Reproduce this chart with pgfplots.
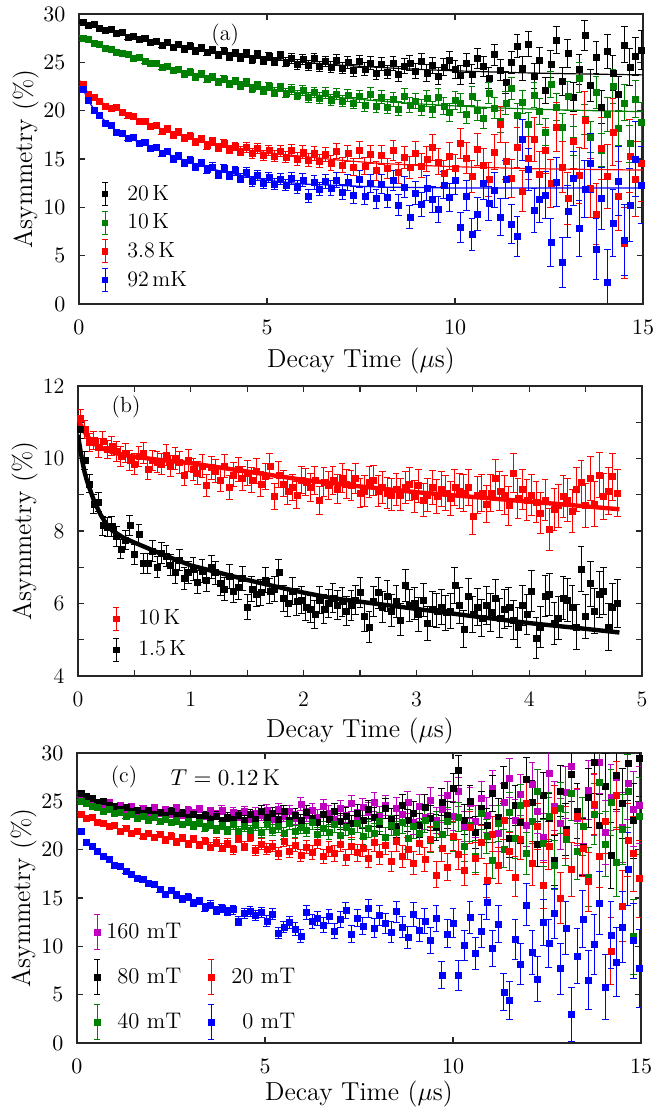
\RequirePackage{fix-cm}
\documentclass[border=0pt]{standalone}
\usepackage{pgfplots}
\pgfplotsset{compat=1.18}
\usepackage{pgfplotstable}
\definecolor{mgreen}{rgb}{0,0.5,0}
\definecolor{mmag}{rgb}{0.75,0,0.75}
\definecolor{axgray}{rgb}{0.15,0.15,0.15}

\pgfplotstableread{
t ea eb K G R B
0.10 0.20 0.20 29.2 27.5 22.7 22.2
0.25 0.21 0.21 28.8 27.4 21.7 21.1
0.40 0.21 0.22 28.9 27.0 21.4 20.0
0.55 0.22 0.22 28.5 26.9 21.0 19.5
0.70 0.22 0.23 28.3 26.5 20.5 18.7
0.85 0.23 0.24 28.4 26.4 20.3 18.5
1.00 0.23 0.24 28.0 26.0 20.4 17.8
1.15 0.24 0.25 28.1 25.9 19.8 17.7
1.30 0.24 0.26 27.6 25.8 19.5 17.2
1.45 0.25 0.27 27.7 25.4 19.4 17.3
1.60 0.26 0.28 27.4 25.5 18.9 16.6
1.75 0.26 0.28 27.5 25.1 18.9 16.7
1.90 0.27 0.29 27.1 24.9 18.4 16.1
2.05 0.27 0.30 27.2 24.9 18.5 16.2
2.20 0.28 0.31 26.8 24.5 17.9 15.6
2.35 0.29 0.32 27.1 24.6 18.1 15.8
2.50 0.29 0.33 26.6 24.2 17.5 15.0
2.65 0.30 0.34 26.9 24.3 17.8 15.3
2.80 0.31 0.35 26.4 23.8 17.2 14.6
2.95 0.32 0.36 26.7 24.0 17.4 14.9
3.10 0.32 0.37 26.2 23.5 16.8 14.2
3.25 0.33 0.38 26.5 23.8 17.1 14.6
3.40 0.34 0.39 26.0 23.3 16.4 13.9
3.55 0.34 0.41 26.3 23.5 16.8 14.2
3.70 0.35 0.42 25.8 23.0 16.2 13.4
3.85 0.36 0.43 26.2 23.3 16.6 14.0
4.00 0.37 0.45 25.6 22.8 16.0 13.3
4.15 0.38 0.46 26.0 23.1 16.3 13.8
4.30 0.39 0.47 25.5 22.6 15.8 13.0
4.45 0.40 0.49 25.9 22.9 16.2 13.6
4.60 0.41 0.50 25.3 22.3 15.6 12.7
4.75 0.42 0.52 25.8 22.6 16.1 13.3
4.90 0.42 0.53 25.2 22.1 15.4 12.5
5.05 0.43 0.55 25.6 22.5 15.9 13.1
5.20 0.45 0.57 25.1 21.9 15.3 12.4
5.35 0.46 0.58 25.7 22.4 15.8 12.9
5.50 0.47 0.60 25.0 21.8 15.2 12.3
5.65 0.48 0.62 25.4 22.2 15.9 13.0
5.80 0.49 0.64 24.8 21.6 15.0 12.1
5.95 0.50 0.66 25.3 22.1 15.7 12.8
6.10 0.51 0.68 24.7 21.4 14.9 11.2
6.25 0.52 0.70 25.4 21.9 15.6 12.6
6.40 0.54 0.72 24.6 21.3 14.8 11.9
6.55 0.55 0.74 25.1 21.8 15.5 12.7
6.70 0.56 0.76 24.5 21.1 14.6 12.0
6.85 0.57 0.79 25.2 21.7 15.8 12.8
7.00 0.59 0.81 24.4 21.0 14.4 11.6
7.15 0.60 0.83 25.0 21.6 15.6 12.6
7.30 0.61 0.86 24.2 20.8 14.2 11.3
7.45 0.63 0.88 25.1 21.5 15.9 12.9
7.60 0.64 0.91 24.3 20.6 14.3 11.2
7.75 0.66 0.94 24.9 21.7 15.5 12.5
7.90 0.67 0.97 23.9 20.5 13.8 10.9
8.05 0.69 1.00 24.8 21.4 15.4 12.4
8.20 0.71 1.03 24.0 20.4 14.0 11.0
8.35 0.72 1.06 24.9 21.2 15.9 12.8
8.50 0.74 1.09 23.8 20.2 13.6 10.2
8.65 0.76 1.13 24.6 21.5 15.2 12.1
8.80 0.78 1.16 24.9 20.6 14.1 9.0
8.95 0.79 1.20 24.1 21.0 15.6 11.5
9.10 0.81 1.23 25.1 20.3 14.3 10.3
9.25 0.83 1.27 23.9 21.3 15.0 12.0
9.40 0.85 1.31 24.7 20.1 16.2 10.8
9.55 0.87 1.35 23.6 21.4 14.7 9.8
9.70 0.89 1.39 24.5 20.5 13.5 12.3
9.85 0.91 1.43 25.2 19.8 15.3 11.0
10.00 0.93 1.48 24.3 21.1 14.0 12.8
10.15 0.95 1.52 23.7 20.8 16.6 7.9
10.30 0.97 1.57 24.9 19.6 15.1 11.2
10.45 1.00 1.62 23.8 21.5 13.2 7.2
10.60 1.02 1.67 25.4 20.0 16.0 9.3
10.75 1.05 1.72 24.6 19.2 14.4 12.5
10.90 1.07 1.77 23.4 21.8 12.9 10.4
11.05 1.10 1.83 25.8 20.3 15.7 11.8
11.20 1.12 1.88 24.2 18.9 18.6 9.0
11.35 1.15 1.94 22.9 20.8 14.8 12.9
11.50 1.17 2.00 25.0 22.3 13.0 8.3
11.65 1.20 2.06 26.7 19.5 16.2 7.0
11.80 1.23 2.13 24.4 20.9 11.7 17.0
11.95 1.26 2.19 26.9 18.6 15.1 13.9
12.10 1.29 2.26 23.6 21.6 17.0 9.7
12.25 1.32 2.33 25.2 19.9 13.4 10.8
12.40 1.35 2.40 22.1 17.8 15.9 11.3
12.55 1.38 2.47 24.8 22.7 12.5 6.4
12.70 1.41 2.55 27.3 20.4 18.3 12.6
12.85 1.45 2.63 23.0 18.3 14.2 4.3
13.00 1.48 2.71 25.9 21.5 10.9 9.6
13.15 1.51 2.79 21.4 16.9 16.8 13.0
13.30 1.55 2.88 24.3 23.4 13.3 7.8
13.45 1.58 2.96 27.8 19.1 19.0 11.9
13.60 1.62 3.05 22.6 17.3 12.0 14.6
13.75 1.66 3.15 25.5 21.9 9.3 5.7
13.90 1.70 3.24 20.4 15.9 16.1 10.9
14.05 1.74 3.34 26.1 19.6 13.2 2.3
14.20 1.78 3.44 23.9 22.5 17.8 8.4
14.35 1.82 3.55 21.7 18.2 11.2 12.7
14.50 1.86 3.65 26.8 20.8 6.3 6.6
14.65 1.91 3.77 24.5 16.6 15.3 10.2
14.80 1.95 3.88 25.6 21.2 12.9 15.0
14.95 2.00 4.00 26.3 18.8 14.6 12.3
}\dataA

\pgfplotstableread{
t e R K
0.02 0.25 11.10 10.80
0.06 0.25 10.80 9.95
0.10 0.25 10.45 9.30
0.14 0.26 10.50 8.75
0.18 0.26 10.30 8.80
0.22 0.26 10.48 8.15
0.26 0.26 10.25 8.10
0.30 0.27 10.35 8.12
0.34 0.27 10.20 7.85
0.38 0.27 10.05 7.50
0.42 0.27 10.15 7.75
0.46 0.27 9.95 8.15
0.50 0.28 9.85 7.35
0.54 0.28 10.05 7.90
0.58 0.28 10.15 7.10
0.62 0.28 9.70 7.10
0.66 0.28 9.95 7.45
0.70 0.29 9.90 7.00
0.74 0.29 9.85 7.40
0.78 0.29 10.10 7.30
0.82 0.29 9.80 7.05
0.86 0.30 10.00 6.85
0.90 0.30 9.90 7.20
0.94 0.30 9.55 6.70
0.98 0.30 9.95 6.85
1.02 0.31 9.70 6.95
1.06 0.31 9.60 6.60
1.10 0.31 9.80 6.90
1.14 0.31 9.25 6.65
1.18 0.32 9.75 7.00
1.22 0.32 9.65 6.85
1.26 0.32 9.40 6.55
1.30 0.32 9.80 6.40
1.34 0.33 9.20 6.75
1.38 0.33 9.55 6.35
1.42 0.33 9.70 6.45
1.46 0.33 9.45 6.70
1.50 0.34 9.60 5.90
1.54 0.34 9.40 6.40
1.58 0.34 9.65 6.25
1.62 0.35 9.30 6.30
1.66 0.35 9.50 6.65
1.70 0.35 9.80 6.35
1.74 0.35 8.95 6.40
1.78 0.36 9.55 6.85
1.82 0.36 9.30 6.15
1.86 0.36 9.10 6.00
1.90 0.37 9.20 6.35
1.94 0.37 9.00 6.05
1.98 0.37 9.40 6.10
2.02 0.37 9.35 5.90
2.06 0.38 9.20 5.85
2.10 0.38 9.40 5.70
2.14 0.38 8.85 6.10
2.18 0.39 9.35 5.85
2.22 0.39 9.25 6.00
2.26 0.39 9.40 6.15
2.30 0.40 9.15 5.95
2.34 0.40 9.45 6.05
2.38 0.40 9.30 5.80
2.42 0.41 9.25 5.95
2.46 0.41 9.45 6.10
2.50 0.41 9.05 6.30
2.54 0.42 9.10 5.65
2.58 0.42 9.35 5.35
2.62 0.42 9.40 6.05
2.66 0.43 9.10 6.30
2.70 0.43 9.20 5.90
2.74 0.43 9.05 6.20
2.78 0.44 9.00 5.80
2.82 0.44 9.15 6.05
2.86 0.44 9.00 5.55
2.90 0.45 9.20 6.50
2.94 0.45 9.30 5.95
2.98 0.45 8.95 6.00
3.02 0.46 9.25 5.70
3.06 0.46 8.85 6.10
3.10 0.46 9.00 5.45
3.14 0.47 9.20 5.85
3.18 0.47 8.95 5.80
3.22 0.48 9.15 5.90
3.26 0.48 9.05 5.75
3.30 0.48 8.90 5.80
3.34 0.49 9.20 6.50
3.38 0.49 9.10 5.95
3.42 0.50 9.05 5.30
3.46 0.50 9.20 6.20
3.50 0.50 8.40 5.70
3.54 0.51 9.00 5.90
3.58 0.51 9.05 5.60
3.62 0.52 8.75 5.95
3.66 0.52 9.05 5.75
3.70 0.52 9.45 6.15
3.74 0.53 9.10 5.60
3.78 0.53 9.00 5.85
3.82 0.54 8.70 5.90
3.86 0.54 9.60 5.55
3.90 0.55 8.90 5.35
3.94 0.55 9.15 5.95
3.98 0.56 8.85 5.70
4.02 0.56 9.00 6.35
4.06 0.56 8.80 5.05
4.10 0.57 8.50 5.35
4.14 0.57 8.85 6.20
4.18 0.58 8.05 6.25
4.22 0.58 8.60 5.45
4.26 0.59 8.70 5.60
4.30 0.59 8.95 6.15
4.34 0.60 8.85 6.10
4.38 0.60 8.55 5.90
4.42 0.61 9.15 5.35
4.46 0.61 9.35 6.95
4.50 0.61 8.70 5.65
4.54 0.62 9.45 6.55
4.58 0.62 8.75 5.80
4.62 0.63 9.55 6.25
4.66 0.64 8.95 6.35
4.70 0.64 9.10 5.35
4.74 0.65 9.50 5.90
4.78 0.65 9.05 6.00
}\dataB

\pgfplotstableread{
t e M K G R B
0.10 0.20 25.3 25.8 25.0 23.7 21.9
0.25 0.21 25.0 25.5 24.8 23.3 20.8
0.40 0.22 25.2 25.3 24.5 23.4 20.4
0.55 0.22 24.8 24.9 24.4 22.8 19.8
0.70 0.23 24.6 25.0 24.0 22.7 19.3
0.85 0.24 24.9 24.6 24.2 22.4 19.0
1.00 0.24 24.3 24.5 23.8 22.5 18.4
1.15 0.25 24.6 24.2 23.9 21.9 18.3
1.30 0.26 24.2 24.4 23.5 22.2 17.8
1.45 0.27 24.5 24.0 23.7 21.7 17.5
1.60 0.28 24.0 24.1 23.3 21.9 17.0
1.75 0.28 24.3 23.8 23.5 21.4 16.9
1.90 0.29 23.9 24.1 23.1 21.7 16.5
2.05 0.30 24.4 23.7 23.4 21.3 16.4
2.20 0.31 23.8 23.9 22.9 21.6 15.9
2.35 0.32 24.2 23.6 23.2 21.0 15.4
2.50 0.33 23.7 24.0 22.8 21.4 15.8
2.65 0.34 24.3 23.5 23.0 20.8 15.3
2.80 0.35 23.6 23.8 22.6 21.2 14.9
2.95 0.36 24.1 23.4 22.9 20.6 15.1
3.10 0.37 23.8 23.7 22.5 21.1 14.5
3.25 0.38 24.2 23.3 22.8 20.5 14.7
3.40 0.39 23.5 23.6 22.3 20.9 14.0
3.55 0.41 24.0 23.2 22.6 20.3 14.3
3.70 0.42 23.6 23.5 22.1 20.8 13.7
3.85 0.43 24.1 22.9 22.5 20.2 13.9
4.00 0.45 23.4 23.4 22.0 20.7 13.6
4.15 0.46 23.9 23.0 22.6 20.0 13.8
4.30 0.47 23.5 23.6 21.9 21.2 12.6
4.45 0.49 24.0 23.1 22.4 20.4 13.4
4.60 0.50 23.3 23.7 22.0 21.3 13.6
4.75 0.52 23.8 23.2 22.5 19.9 13.2
4.90 0.53 23.6 24.0 21.8 20.6 13.5
5.05 0.55 24.1 23.4 22.6 20.1 12.6
5.20 0.57 23.2 23.8 22.0 20.4 13.3
5.35 0.58 24.2 23.2 22.4 19.6 11.4
5.50 0.60 23.5 24.0 21.7 20.9 12.0
5.65 0.62 24.0 23.1 22.7 19.8 12.5
5.80 0.64 23.3 23.6 21.9 20.5 11.8
5.95 0.66 24.7 23.0 22.3 19.4 11.1
6.10 0.68 23.6 23.9 22.0 20.3 13.5
6.25 0.70 24.1 23.3 22.8 19.7 12.6
6.40 0.72 23.4 22.8 21.6 20.8 12.9
6.55 0.74 24.5 23.7 22.2 19.3 12.2
6.70 0.76 23.8 23.2 21.8 20.1 13.1
6.85 0.79 23.2 24.0 22.6 19.6 11.6
7.00 0.81 24.3 22.9 21.5 20.6 12.8
7.15 0.83 23.6 23.5 22.3 19.2 13.7
7.30 0.86 24.8 22.7 21.9 20.4 11.3
7.45 0.88 23.3 23.8 22.7 19.7 12.9
7.60 0.91 24.4 23.1 21.4 20.2 12.1
7.75 0.94 23.9 24.2 22.2 19.1 13.9
7.90 0.97 24.9 23.4 21.7 20.8 11.9
8.05 1.00 23.5 22.6 22.9 19.5 13.2
8.20 1.03 24.6 24.3 21.3 20.5 12.4
8.35 1.06 23.2 23.2 22.5 18.8 11.5
8.50 1.09 24.3 22.4 21.8 20.9 13.6
8.65 1.13 23.7 24.6 22.8 19.3 12.0
8.80 1.16 24.9 23.0 21.2 20.1 10.9
8.95 1.20 22.8 23.8 22.4 18.6 13.3
9.10 1.23 24.5 22.5 21.7 20.7 11.7
9.25 1.27 23.4 24.4 23.1 19.0 12.6
9.40 1.31 25.1 23.3 21.0 21.1 10.6
9.55 1.35 23.0 22.3 22.6 17.4 12.9
9.70 1.39 24.2 24.9 21.6 20.2 7.0
9.85 1.43 25.6 23.6 22.9 18.2 11.3
10.00 1.48 23.5 26.4 21.3 21.4 12.4
10.15 1.52 26.0 28.2 23.4 19.5 7.0
10.30 1.57 22.4 23.1 20.4 17.9 10.1
10.45 1.62 24.8 25.0 22.5 22.3 13.0
10.60 1.67 22.9 21.8 19.3 19.1 9.3
10.75 1.72 25.3 24.3 23.8 20.8 11.6
10.90 1.77 23.6 22.5 21.4 16.8 14.6
11.05 1.83 26.4 25.8 18.9 21.6 9.8
11.20 1.88 21.7 23.4 22.7 18.4 12.3
11.35 1.94 24.9 26.7 20.1 23.0 5.3
11.50 2.00 27.4 21.2 23.9 19.8 4.4
11.65 2.06 23.1 24.6 21.2 17.2 10.7
11.80 2.13 25.7 22.8 24.6 21.1 8.2
11.95 2.19 22.5 27.3 19.6 24.8 14.3
12.10 2.26 26.8 24.9 22.9 18.6 9.4
12.25 2.33 24.0 20.6 26.0 22.4 6.6
12.40 2.40 21.3 25.6 20.7 16.3 12.5
12.55 2.47 27.9 23.3 23.5 20.4 10.3
12.70 2.55 24.5 18.9 18.4 24.1 13.4
12.85 2.63 22.7 26.1 24.3 15.0 7.7
13.00 2.71 25.9 22.1 21.1 21.8 11.9
13.15 2.79 28.6 27.8 25.8 18.0 3.0
13.30 2.88 23.3 24.0 19.8 23.5 9.0
13.45 2.96 20.4 20.3 22.4 20.2 12.8
13.60 3.05 26.2 25.4 17.2 16.7 6.5
13.75 3.15 24.6 29.0 23.7 24.7 10.2
13.90 3.24 29.1 22.5 27.0 19.3 14.5
14.05 3.34 21.8 26.6 20.6 22.9 5.8
14.20 3.44 25.4 19.4 24.9 9.5 11.2
14.35 3.55 27.5 27.7 18.7 25.6 8.4
14.50 3.65 22.3 24.8 22.1 14.2 12.0
14.65 3.77 26.9 28.9 26.1 21.0 18.0
14.80 3.88 24.2 23.0 11.0 19.6 10.6
14.95 4.00 24.6 29.5 23.5 17.0 7.7
}\dataC

\pgfplotsset{
  ebar/.style={only marks, mark=square*, mark size=1.5pt, color=#1,
    mark options={solid, draw=#1, fill=#1, line width=0.2pt},
    error bars/y dir=both, error bars/y explicit,
    error bars/error bar style={line width=0.45pt, color=#1, solid},
    error bars/error mark options={rotate=90, mark size=1.7pt, line width=0.45pt, color=#1}},
  limg/.style={only marks, mark=square*, mark size=1.3pt, color=#1, mark options={solid, draw=#1, fill=#1}},
  panel/.style={scale only axis, width=282pt, height=145pt,
    axis line style={line width=0.55pt, axgray},
    every tick/.style={line width=0.55pt, axgray},
    major tick length=2.8pt,
    tick label style={font=\fontsize{11}{13}\selectfont},
    xticklabel style={yshift=-4.5pt},
    yticklabel style={xshift=-3.3pt},
    xlabel style={at={(axis description cs:0.5,0)}, anchor=base, font=\fontsize{13}{15}\selectfont},
    ylabel style={at={(axis description cs:-0.0833,0.5)}, anchor=base, font=\fontsize{13}{15}\selectfont},
    xlabel={Decay Time ($\mu$s)},
    ylabel={Asymmetry (\%)},
  },
}

\begin{document}
\begin{tikzpicture}
\useasboundingbox (0,0) rectangle (328pt,554pt);

% ---------------- (a)
\begin{axis}[panel, at={(39.5pt,402pt)}, anchor=south west,
  xlabel style={yshift=-32pt},
  xmin=0, xmax=15, ymin=0, ymax=30,
  xtick={0,5,10,15}, ytick={0,5,10,15,20,25,30},
  legend image code/.code={%
    \path[draw=none, fill=none] (-2.5pt,-7pt) rectangle (2.5pt,7pt);
    \draw[#1, mark=none, solid, line width=0.5pt] (0pt,-5.75pt) -- (0pt,5.75pt) (-1.5pt,-5.75pt) -- (1.5pt,-5.75pt) (-1.5pt,5.75pt) -- (1.5pt,5.75pt);
    \draw[#1] plot coordinates {(0pt,0pt)};},
  legend style={draw=none, fill=none, font=\fontsize{11}{13}\selectfont,
    at={(axis description cs:0.0264,0.019)}, anchor=south west,
    nodes={inner sep=0.5pt}, row sep=0.3pt,
    /tikz/every odd column/.append style={column sep=8pt}},
  legend cell align=left]
\addplot[forget plot, ebar=black] table[x=t, y=K, y error=ea] {\dataA};
\addplot[forget plot, ebar=mgreen] table[x=t, y=G, y error=ea] {\dataA};
\addplot[forget plot, ebar=red] table[x=t, y=R, y error=eb] {\dataA};
\addplot[forget plot, ebar=blue] table[x=t, y=B, y error=eb] {\dataA};
\addplot[forget plot, black, line width=0.6pt, no marks] coordinates {(0,29.2) (0.5,28.62) (1,28.06) (1.5,27.59) (2,27.15) (3,26.43) (4,25.84) (5,25.38) (6,25.0) (7,24.7) (8,24.47) (9,24.27) (10,24.12) (11,24.0) (12,23.9) (13,23.82) (14,23.76) (15,23.7)};
\addplot[forget plot, mgreen, line width=0.6pt, no marks] coordinates {(0,27.8) (0.5,26.94) (1,26.17) (1.5,25.48) (2,24.88) (3,23.81) (4,22.97) (5,22.32) (6,21.76) (7,21.33) (8,20.99) (9,20.71) (10,20.49) (11,20.31) (12,20.17) (13,20.06) (14,19.97) (15,19.9)};
\addplot[forget plot, red, line width=0.6pt, no marks] coordinates {(0,23.2) (0.25,21.8) (0.5,21.0) (1,20.2) (1.5,19.15) (2,18.4) (2.5,17.7) (3,17.1) (3.5,16.6) (4,16.2) (5,15.65) (6,15.25) (7,14.85) (8,14.55) (9,14.35) (10,14.2) (11,14.1) (12,14.0) (13,13.95) (14,13.9) (15,13.85)};
\addplot[forget plot, blue, line width=0.6pt, no marks] coordinates {(0,23.2) (0.25,21.0) (0.5,19.6) (1,17.9) (1.5,16.9) (2,16.1) (2.5,15.3) (3,14.6) (3.5,14.0) (4,13.55) (5,12.8) (6,12.4) (7,12.25) (8,12.1) (10,12.0) (15,12.0)};
\addlegendimage{limg=black}\addlegendentry{\rule[-6.5pt]{0pt}{14pt}20\,K}
\addlegendimage{limg=mgreen}\addlegendentry{\rule[-6.5pt]{0pt}{14pt}10\,K}
\addlegendimage{limg=red}\addlegendentry{\rule[-6.5pt]{0pt}{14pt}3.8\,K}
\addlegendimage{limg=blue}\addlegendentry{\rule[-6.5pt]{0pt}{14pt}92\,mK}
\node[font=\fontsize{11}{13}\selectfont] at (axis cs:3.89,27.8) {(a)};
\end{axis}

% ---------------- (b)
\begin{axis}[panel, at={(39pt,216pt)}, anchor=south west,
  xlabel style={yshift=-31pt},
  xmin=0, xmax=5, ymin=4, ymax=12,
  xtick={0,0.5,1,1.5,2,2.5,3,3.5,4,4.5,5}, xticklabels={0,,1,,2,,3,,4,,5},
  ytick={4,5,6,7,8,9,10,11,12}, yticklabels={4,,6,,8,,10,,12},
  legend image code/.code={%
    \path[draw=none, fill=none] (-2.5pt,-7pt) rectangle (2.5pt,7pt);
    \draw[#1, mark=none, solid, line width=0.5pt] (0pt,-5.75pt) -- (0pt,5.75pt) (-1.5pt,-5.75pt) -- (1.5pt,-5.75pt) (-1.5pt,5.75pt) -- (1.5pt,5.75pt);
    \draw[#1] plot coordinates {(0pt,0pt)};},
  legend style={draw=none, fill=none, font=\fontsize{11}{13}\selectfont,
    at={(axis description cs:0.0477,0.0275)}, anchor=south west,
    nodes={inner sep=0.5pt}, row sep=1.5pt,
    /tikz/every odd column/.append style={column sep=8pt}},
  legend cell align=left]
\addplot[forget plot, ebar=red] table[x=t, y=R, y error=e] {\dataB};
\addplot[forget plot, ebar=black] table[x=t, y=K, y error=e] {\dataB};
\addplot[forget plot, red, line width=2.2pt, no marks] coordinates {(0,11.1) (0.02,10.95) (0.06,10.72) (0.1,10.55) (0.15,10.4) (0.2,10.3) (0.3,10.18) (0.4,10.1) (0.5,10.05) (0.7,9.97) (1.0,9.87) (1.5,9.64) (2,9.41) (2.5,9.23) (3,9.07) (3.5,8.94) (4,8.81) (4.5,8.68) (4.8,8.6)};
\addplot[forget plot, black, line width=2.2pt, no marks] coordinates {(0,10.65) (0.02,10.25) (0.04,9.9) (0.06,9.6) (0.08,9.38) (0.1,9.2) (0.14,8.85) (0.2,8.45) (0.25,8.2) (0.3,8.02) (0.4,7.82) (0.5,7.68) (0.6,7.55) (0.75,7.35) (1,7.05) (1.25,6.85) (1.5,6.65) (1.75,6.47) (2,6.3) (2.25,6.15) (2.5,6.05) (3,5.85) (3.5,5.65) (4,5.46) (4.5,5.3) (4.8,5.2)};
\addlegendimage{limg=red}\addlegendentry{\rule[-6.5pt]{0pt}{14pt}10\,K}
\addlegendimage{limg=black}\addlegendentry{\rule[-6.5pt]{0pt}{14pt}1.5\,K}
\node[font=\fontsize{11}{13}\selectfont] at (axis cs:0.426,11.42) {(b)};
\end{axis}

% ---------------- (c)
\begin{axis}[panel, at={(38.5pt,32.5pt)}, anchor=south west,
  xlabel style={yshift=-29pt},
  xmin=0, xmax=15, ymin=0, ymax=30,
  xtick={0,5,10,15}, ytick={0,5,10,15,20,25,30},
  legend image code/.code={%
    \path[draw=none, fill=none] (-2.5pt,-9.5pt) rectangle (2.5pt,9.5pt);
    \draw[#1, mark=none, solid, line width=0.5pt] (0pt,-8.75pt) -- (0pt,8.75pt) (-1.5pt,-8.75pt) -- (1.5pt,-8.75pt) (-1.5pt,8.75pt) -- (1.5pt,8.75pt);
    \draw[#1] plot coordinates {(0pt,0pt)};},
  legend columns=2,
  legend style={draw=none, fill=none, font=\fontsize{11.3}{13}\selectfont,
    at={(axis description cs:0.0158,-0.01)}, anchor=south west,
    nodes={inner sep=0.5pt}, row sep=3.5pt,
    /tikz/every odd column/.append style={column sep=1.5pt},
    /tikz/every even column/.append style={column sep=12pt}},
  legend cell align=right]
\addplot[forget plot, ebar=mmag] table[x=t, y=M, y error=e] {\dataC};
\addplot[forget plot, ebar=black] table[x=t, y=K, y error=e] {\dataC};
\addplot[forget plot, ebar=mgreen] table[x=t, y=G, y error=e] {\dataC};
\addplot[forget plot, ebar=red] table[x=t, y=R, y error=e] {\dataC};
\addplot[forget plot, ebar=blue] table[x=t, y=B, y error=e] {\dataC};
\addlegendimage{limg=mmag}\addlegendentry{160 mT}
\addlegendimage{empty legend}\addlegendentry{}
\addlegendimage{limg=black}\addlegendentry{80 mT}
\addlegendimage{limg=red}\addlegendentry{\phantom{1}20 mT}
\addlegendimage{limg=mgreen}\addlegendentry{40 mT}
\addlegendimage{limg=blue}\addlegendentry{0 mT}
\node[font=\fontsize{11}{13}\selectfont] at (axis cs:1.25,27.5) {(c)};
\node[font=\fontsize{11.5}{13}\selectfont, anchor=west] at (axis cs:2.3,27.5) {$T = 0.12\,$K};
\end{axis}
\end{tikzpicture}
\end{document}
